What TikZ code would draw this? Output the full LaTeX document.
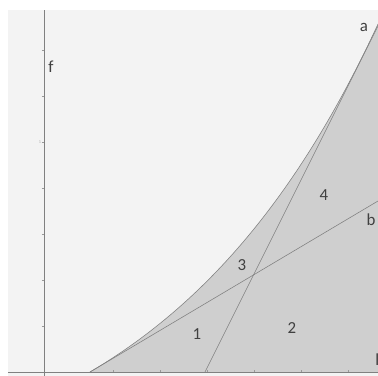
\documentclass[tikz,border=0pt]{standalone}
\usepackage{fontspec}
\setmainfont{Carlito}
\usepackage{tikz}
\usetikzlibrary{calc,positioning}
\definecolor{fondo}{rgb}{0.953,0.953,0.953}
\definecolor{sombra}{rgb}{0.81,0.81,0.81}
\definecolor{trazo}{rgb}{0.50,0.50,0.50}
\tikzset{
  etiqueta/.style={
    font=\fontsize{12}{14}\selectfont,
    text=black!75,
    inner sep=0pt
  },
  eje/.style={
    draw=trazo,
    line width=0.5pt
  },
  recta/.style={
    draw=trazo,
    line width=0.4pt
  },
  marca/.style={
    draw=trazo!80,
    line width=0.3pt
  }
}
\begin{document}
\begin{tikzpicture}[x=0.025cm,y=0.025cm]
\useasboundingbox (0,0) rectangle (378,376);
\fill[fondo] (8,0) rectangle (378,366);
% region under the curve
\fill[sombra] (90,4) -- plot[domain=90:378,samples=80,smooth] (\x,{4+131*(exp(0.0045*(\x-90))-1)}) -- (378,4) -- cycle;
% axes
\coordinate (o) at (44,4);
\coordinate (xfin) at (378,4);
\coordinate (xini) at (8,4);
\coordinate (ytop) at (44,366);
\coordinate (ybot) at (44,0);
\draw[eje] (xini) -- (xfin);
\draw[eje] (ybot) -- (ytop);
\foreach \t in {50,96,142,188,234,280,326}
  \draw[marca] (42,\t) -- (44,\t);
\foreach \t in {113,160,207,254,301,348}
  \draw[marca] (\t,4) -- (\t,6);
\node[font=\fontsize{3}{3}\selectfont,text=black!35,inner sep=0pt] (uno) at (40,234) {1};
% curve
\draw[recta] plot[domain=90:378,samples=80,smooth] (\x,{4+131*(exp(0.0045*(\x-90))-1)});
% lines a and b
\coordinate (a0) at (205,4);
\coordinate (a1) at (378,350);
\coordinate (b0) at (90,4);
\coordinate (b1) at (378,175);
\draw[recta] (a0) -- (a1);
\draw[recta] (b0) -- (b1);
% labels
\node[etiqueta] (f) at (51,309) {f};
\node[etiqueta] (a) at (364,349) {a};
\node[etiqueta] (b) at (371,156) {b};
\node[etiqueta] (r4) at (324,181) {4};
\node[etiqueta] (r3) at (242,111) {3};
\node[etiqueta] (r2) at (292,48) {2};
\node[etiqueta] (r1) at (197,42) {1};
\node[etiqueta,anchor=west] (l) at (375,16) {l};
\end{tikzpicture}
\end{document}
